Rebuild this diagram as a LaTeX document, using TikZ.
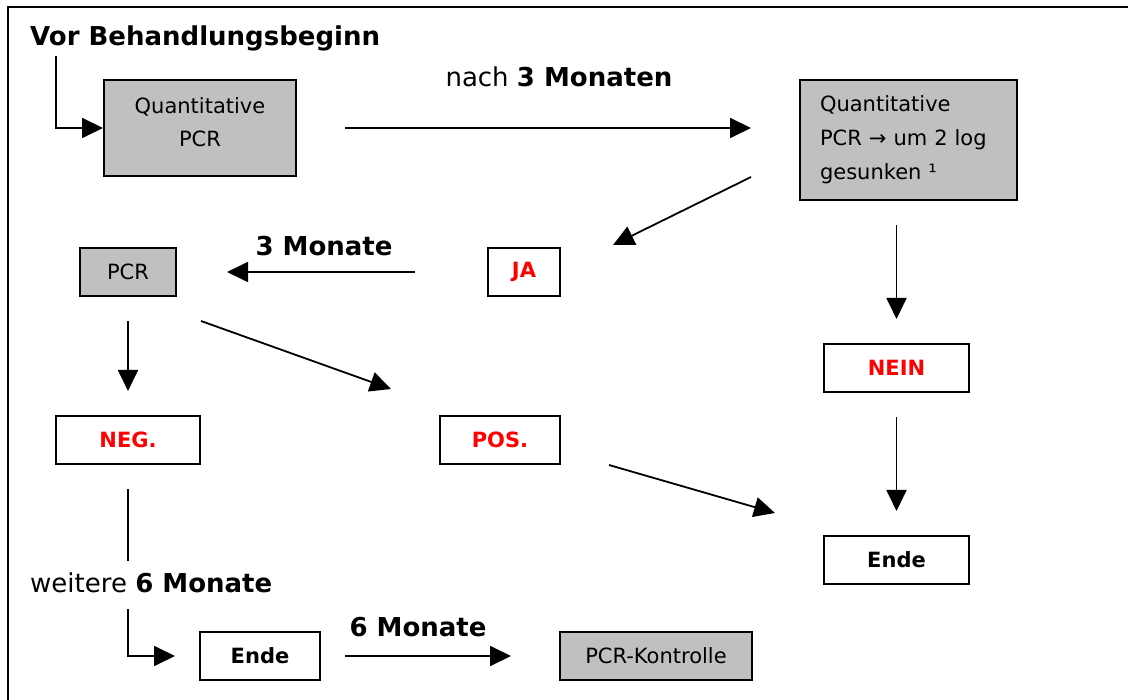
\documentclass[tikz,border=0pt]{standalone}
\usepackage{fontspec}
\setmainfont{DejaVu Sans}
\usepackage{xcolor}
\usetikzlibrary{calc,arrows.meta}
\definecolor{ink}{HTML}{000000}
\definecolor{boxgray}{HTML}{C0C0C0}
\definecolor{alert}{HTML}{FF0000}
\tikzset{
  frame/.style={draw=ink, line width=2.4pt},
  box/.style={draw=ink, line width=2pt, inner sep=0pt, align=center, font=\fontsize{21}{33}\selectfont},
  graybox/.style={box, fill=boxgray},
  whitebox/.style={box, fill=white, font=\fontsize{21}{25}\selectfont\bfseries},
  answer/.style={whitebox, text=alert},
  flow/.style={draw=ink, line width=1.8pt, -{Triangle[length=21pt,width=20pt]}},
  plain/.style={draw=ink, line width=1.8pt},
  lab/.style={inner sep=0pt, font=\fontsize{26}{30}\selectfont},
}
\begin{document}
\begin{tikzpicture}[x=1pt,y=-1pt]
  \useasboundingbox (0,0) rectangle (1128,700);
  \draw[frame] (8,701) -- (8,7) -- (1129,7);

  % labels
  \node[lab,anchor=base west] (vor) at (30,46) {\bfseries Vor Behandlungsbeginn};
  \node[lab,anchor=base] (nach) at (559,87) {nach \textbf{3 Monaten}};
  \node[lab,anchor=base] (drei) at (324,256) {\bfseries 3 Monate};
  \node[lab,anchor=base west] (weitere) at (30,592) {weitere \textbf{6 Monate}};
  \node[lab,anchor=base] (sechs) at (418,636) {\bfseries 6 Monate};

  % boxes
  \node[graybox,minimum width=192pt,minimum height=96pt,text depth=12pt] (qpcr) at (200,128) {Quantitative\\PCR};
  \node[graybox,text width=177pt,inner xsep=20pt,minimum height=120pt,align=left,
        font=\fontsize{21}{34}\selectfont] (qlog) at (908.5,140) {Quantitative\\PCR → um 2 log\\gesunken ¹};
  \node[graybox,minimum width=96pt,minimum height=48pt] (pcr) at (128,272) {PCR};
  \node[answer,minimum width=72pt,minimum height=48pt] (ja) at (524,272) {JA};
  \node[answer,minimum width=145pt,minimum height=48pt] (nein) at (896.5,368) {NEIN};
  \node[answer,minimum width=144pt,minimum height=48pt] (neg) at (128,440) {NEG.};
  \node[answer,minimum width=120pt,minimum height=48pt] (pos) at (500,440) {POS.};
  \node[whitebox,minimum width=145pt,minimum height=48pt] (endr) at (896.5,560) {Ende};
  \node[whitebox,minimum width=120pt,minimum height=48pt] (endl) at (260,656) {Ende};
  \node[graybox,minimum width=192pt,minimum height=48pt] (kontrolle) at (656,656) {PCR-Kontrolle};

  % start
  \draw[flow] ($(vor.base west)+(26,10)$) |- (qpcr.west);
  \draw[flow,shorten <=48pt,shorten >=48pt] (qpcr.east) -- (qpcr.east -| qlog.west);

  % after first check
  \draw[flow] ($(qlog.south west)+(-48,-24)$) -- ($(ja.north east)+(52,-2)$);
  \draw[flow,shorten <=24pt,shorten >=24pt] (nein.north |- qlog.south) -- (nein.north);
  \draw[flow,shorten <=72pt,shorten >=50pt] (ja.west) -- (pcr.east);

  % second check
  \draw[flow,shorten <=24pt,shorten >=24pt] (pcr.south) -- (neg.north);
  \draw[flow] ($(pcr.south east)+(24,24)$) -- ($(pos.north west)+(-48,-26)$);
  \draw[flow,shorten <=24pt,shorten >=24pt] (nein.south) -- (endr.north);
  \draw[flow] ($(pos.south east)+(48,0)$) -- ($(endr.north west)+(-48,-22)$);

  % negative branch
  \draw[plain] ($(neg.south)+(0,24)$) -- ($(neg.south)+(0,96)$);
  \draw[flow,shorten >=24pt] ($(neg.south)+(0,144)$) |- (endl.west);
  \draw[flow,shorten <=24pt,shorten >=48pt] (endl.east) -- (kontrolle.west);
\end{tikzpicture}
\end{document}
